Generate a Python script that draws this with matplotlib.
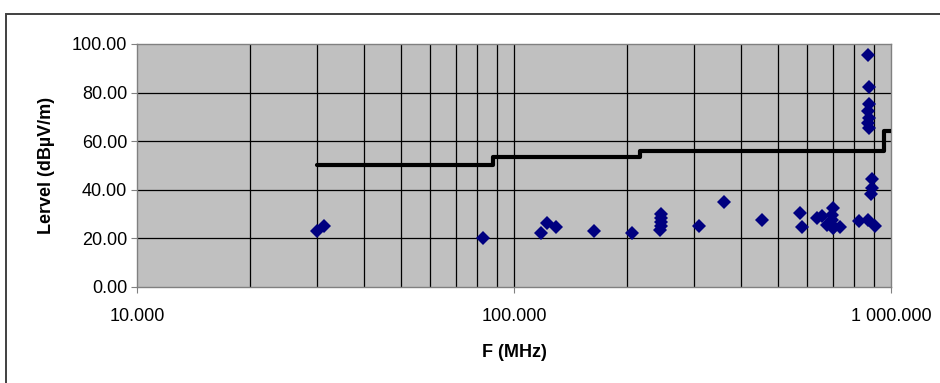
import matplotlib
matplotlib.use("Agg")
from matplotlib import pyplot as plt
from matplotlib.ticker import FixedLocator, FuncFormatter, NullLocator
from matplotlib.patches import Rectangle

# measured points (MHz, dBuV/m)
freq = [30.0, 31.3, 82.6, 117.8, 122.5, 129.0, 163.0, 205.6,
        245.0, 245.0, 246.0, 245.0, 244.0,
        310.0, 360.0, 454.0, 574.0, 580.0, 637.0, 655.0, 675.0,
        700.0, 699.0, 698.0, 701.0, 705.0, 732.0, 824.0,
        867.0, 869.0, 875.0, 876.0, 868.0, 872.0, 868.0, 876.0,
        891.0, 889.0, 887.0, 907.0]
level = [23.0, 25.2, 20.2, 22.1, 26.2, 24.5, 23.1, 22.3,
         30.0, 28.3, 26.5, 25.2, 23.5,
         25.2, 34.7, 27.4, 30.3, 24.4, 28.5, 29.3, 25.5,
         32.6, 29.6, 27.6, 24.1, 24.8, 24.8, 26.9,
         95.5, 27.6, 82.2, 75.1, 72.3, 69.6, 67.5, 65.5,
         44.5, 40.5, 38.0, 25.2]

# limit line
limit_f = [30, 88, 216, 960, 1000]
limit_v = [50, 53.5, 56, 64, 64]

yticks = [0, 20, 40, 60, 80, 100]
xticks = [10, 100, 1000]
xminor = [20, 30, 40, 50, 60, 70, 80, 90, 200, 300, 400, 500, 600, 700, 800, 900]

plt.rcParams['font.family'] = ['Liberation Sans', 'DejaVu Sans']

fig = plt.figure(figsize=(9.4, 3.83), dpi=100)
fig.patches.append(Rectangle((5.5 / 940, -0.05), 1.1, (383 - 14.5) / 383 + 0.05,
                             transform=fig.transFigure, fill=False,
                             edgecolor='#404040', linewidth=1.4))

ax = fig.add_axes([137 / 940, (383 - 286.7) / 383, 754 / 940, 242.7 / 383])
ax.set_facecolor('#C0C0C0')
ax.set_xscale('log')
ax.set_xlim(10, 1000)
ax.set_ylim(0, 100)

for v in yticks[1:-1]:
    ax.axhline(v, color='black', lw=0.9, zorder=1)
for v in xminor:
    ax.axvline(v, color='black', lw=0.9, zorder=1)
ax.axvline(100, color='black', lw=0.9, zorder=1)

ax.plot(limit_f, limit_v, drawstyle='steps-post', color='black', lw=3.0,
        solid_capstyle='round', zorder=3)
ax.plot(freq, level, linestyle='none', marker='D', markersize=7.5,
        color='#000080', markeredgewidth=0, zorder=4)

ax.xaxis.set_major_locator(FixedLocator(xticks))
ax.xaxis.set_minor_locator(NullLocator())
ax.xaxis.set_major_formatter(FuncFormatter(
    lambda v, p: {10: '10.000', 100: '100.000', 1000: '1 000.000'}.get(int(round(v)), '')))
ax.yaxis.set_major_locator(FixedLocator(yticks))
ax.yaxis.set_major_formatter(FuncFormatter(lambda v, p: '%.2f' % v))

for s in ax.spines.values():
    s.set_color('#808080')
    s.set_linewidth(1.0)
ax.tick_params(axis='both', direction='out', length=4, color='#808080',
               labelsize=13, labelcolor='black')
ax.tick_params(axis='x', pad=11)
ax.tick_params(axis='y', pad=3)

ax.set_xlabel('F (MHz)', fontsize=13, fontweight='bold', labelpad=14)
ax.set_ylabel('Lervel (dBµV/m)', fontsize=13, fontweight='bold', labelpad=12)

fig.savefig('out.png', dpi=100)
